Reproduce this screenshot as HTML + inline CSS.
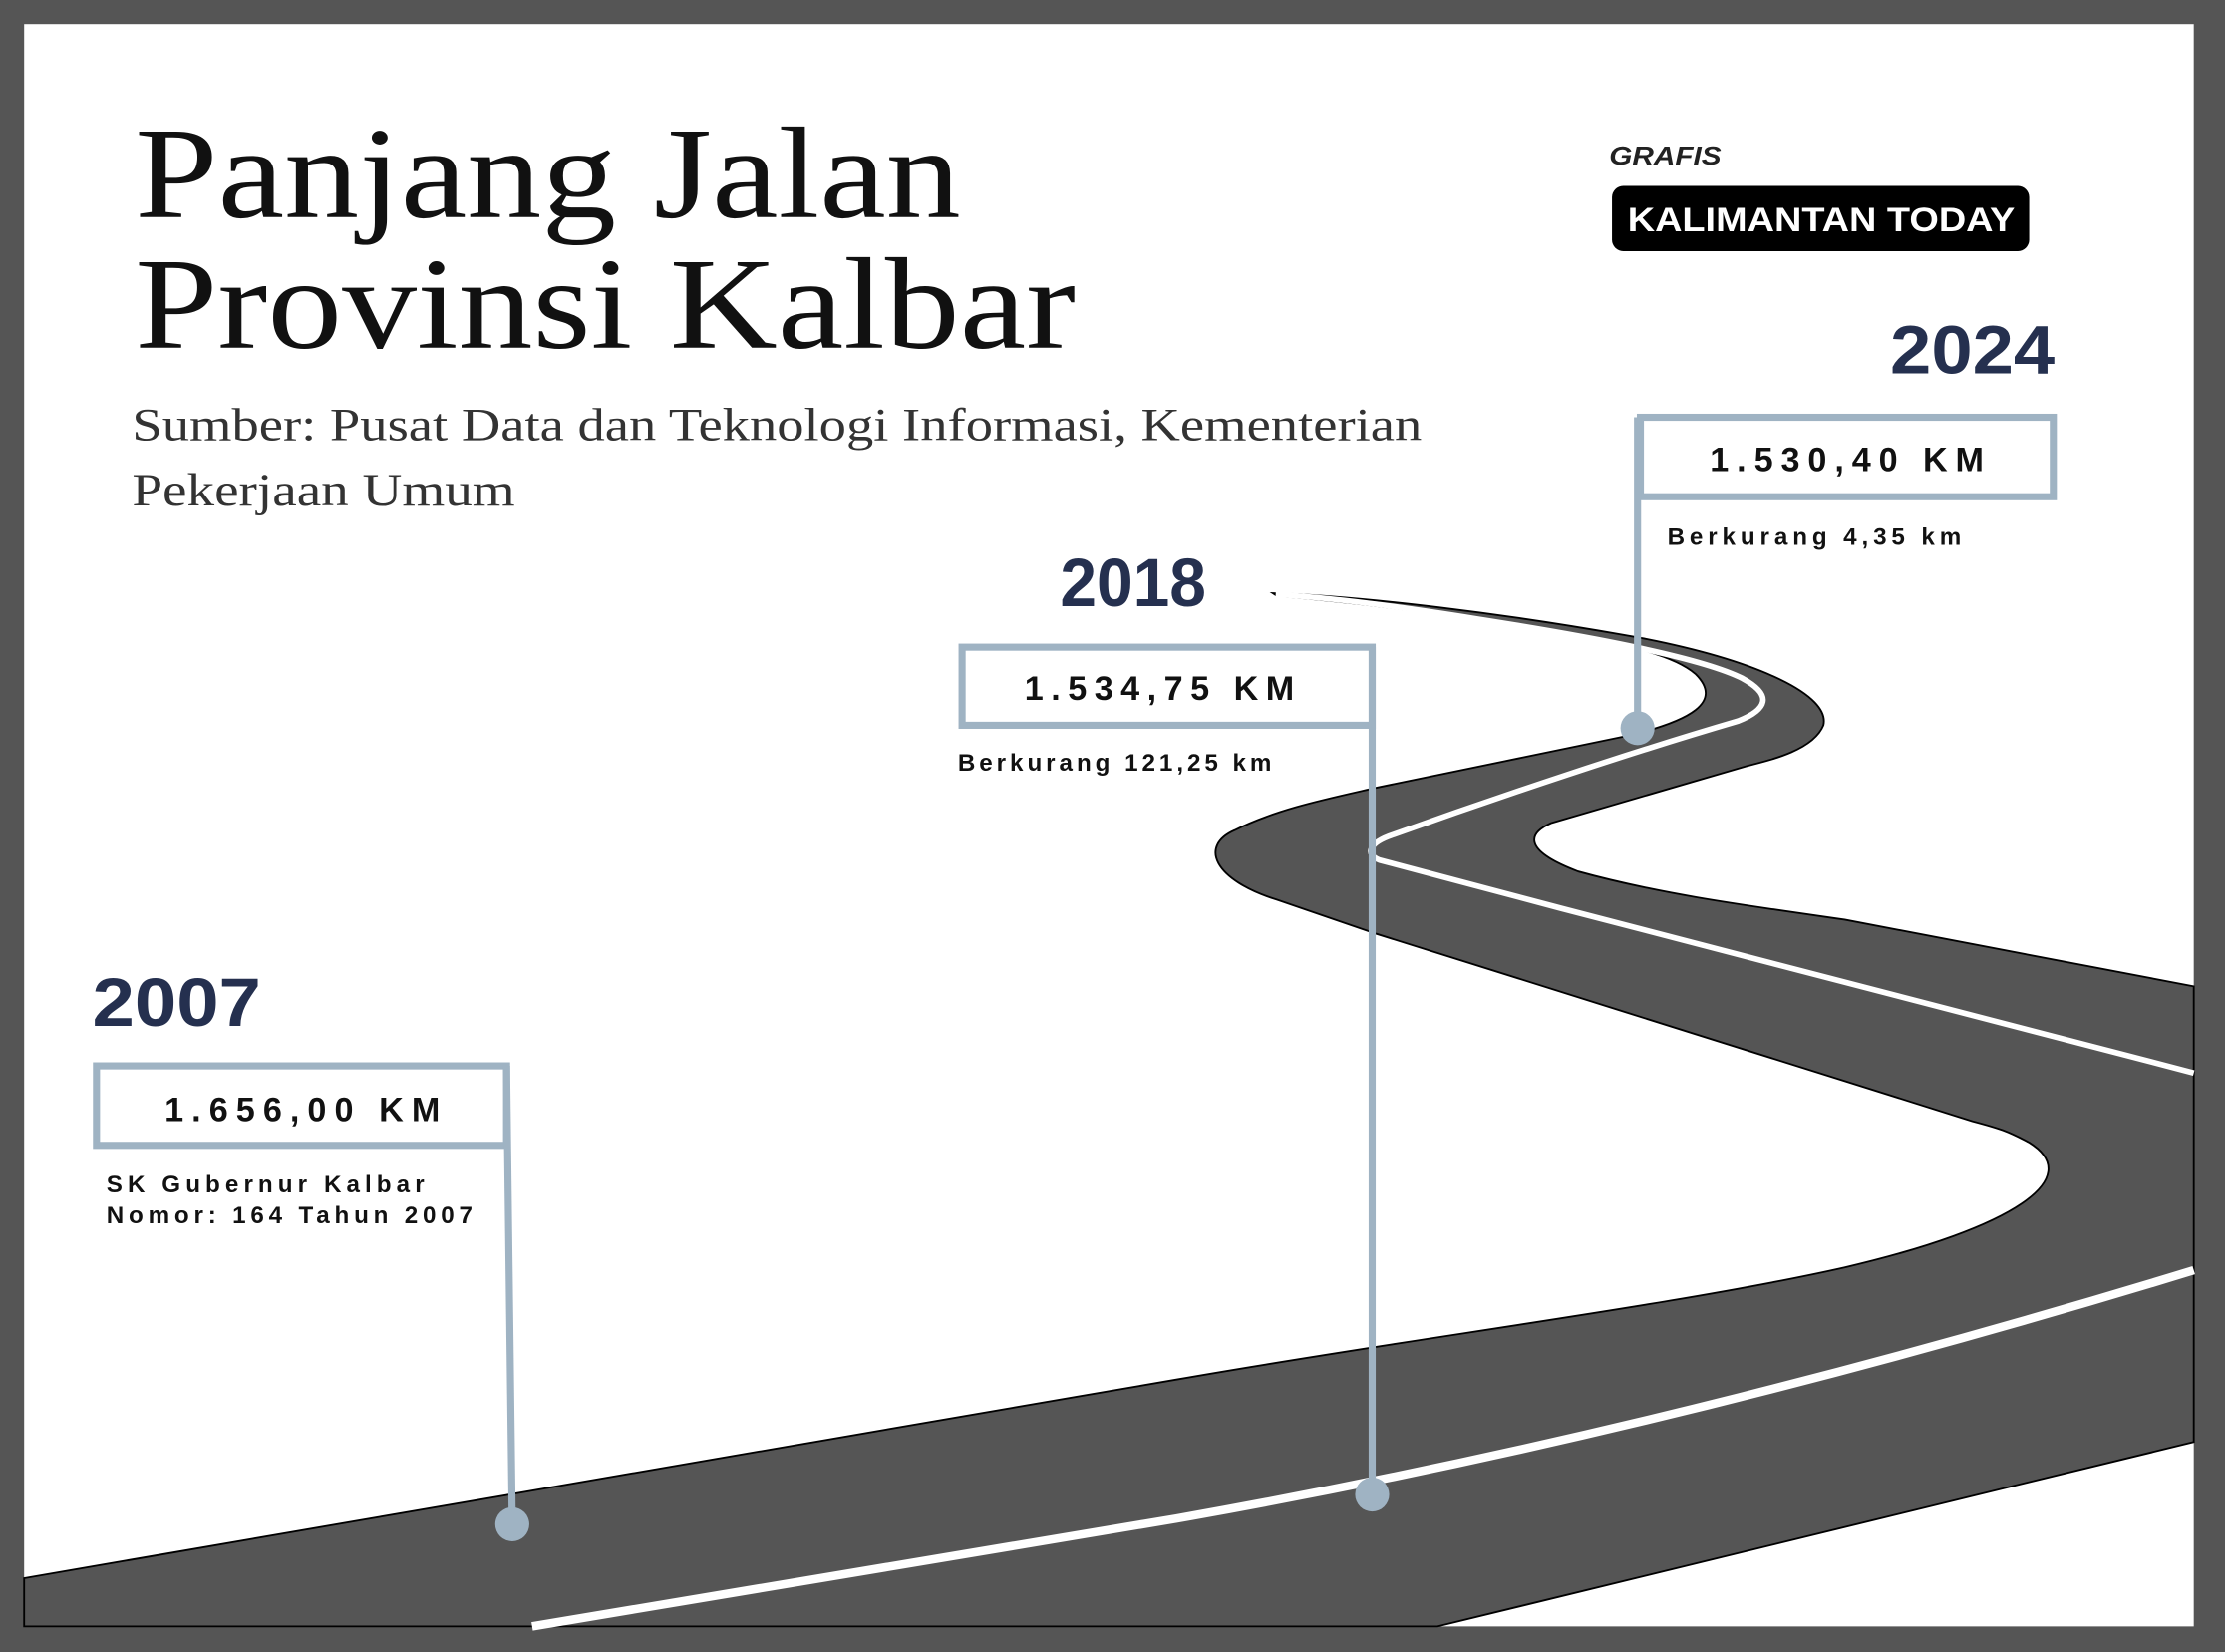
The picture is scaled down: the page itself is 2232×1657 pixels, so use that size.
<!DOCTYPE html>
<html><head><meta charset="utf-8"><style>
html,body{margin:0;padding:0;background:#555;}
svg{display:block;}
</style></head><body>
<svg width="2232" height="1657" viewBox="0 0 1568 1164" preserveAspectRatio="none" xmlns="http://www.w3.org/2000/svg">
<rect x="0" y="0" width="1568" height="1164" fill="#555555"/>
<rect x="17" y="17" width="1529" height="1129" fill="#ffffff"/>

<!-- road -->
<path d="M17,1112 L829,972 C1000,942 1180,920 1300,893 C1420,865 1470,830 1430,805 C1415,797 1409,795 1390,790 L970,658 L900,634 C855,620 845,596 870,585 C900,570 935,563 970,555 L1149,518 C1190,508 1215,495 1195,475 C1180,462 1150,455 1100,446 C1030,434 960,425 900,420 L897,418 C960,420 1060,432 1159,450 C1240,466 1290,490 1285,511 C1278,528 1250,535 1230,540 L1093,580 C1075,588 1075,600 1112,614 C1170,630 1230,638 1300,648 L1546,695 L1546,1016 L1013,1146 L17,1146 Z" fill="#555555" stroke="#000" stroke-width="1.3"/>
<!-- lower white line -->
<path d="M375,1146 L829,1070 C1100,1022 1350,955 1546,895" fill="none" stroke="#fff" stroke-width="6"/>
<!-- upper white line -->
<path d="M1546,756 L1100,640 L972,606 C962,602 964,594 982,588 C1060,560 1150,530 1225,508 C1245,500 1250,490 1228,478 C1200,464 1130,450 1040,436 C990,428 940,421 899,419" fill="none" stroke="#fff" stroke-width="4"/>

<!-- title -->
<g font-family="'Liberation Serif', serif" fill="#111">
<text x="95" y="153" font-size="92" textLength="582" lengthAdjust="spacingAndGlyphs">Panjang Jalan</text>
<text x="95" y="245" font-size="92" textLength="663" lengthAdjust="spacingAndGlyphs">Provinsi Kalbar</text>
<text x="93" y="310" font-size="33" fill="#333" textLength="909" lengthAdjust="spacingAndGlyphs">Sumber: Pusat Data dan Teknologi Informasi, Kementerian</text>
<text x="93" y="356" font-size="33" fill="#333" textLength="270" lengthAdjust="spacingAndGlyphs">Pekerjaan Umum</text>
</g>

<g font-family="'Liberation Sans', sans-serif" font-weight="bold">
<text x="1134" y="116" font-size="18" font-style="italic" fill="#222" textLength="79" lengthAdjust="spacingAndGlyphs">GRAFIS</text>
<rect x="1136" y="131" width="294" height="46" rx="8" fill="#000"/>
<text x="1147" y="163" font-size="24" fill="#fff" textLength="273" lengthAdjust="spacingAndGlyphs">KALIMANTAN TODAY</text>

<g fill="#25304f" font-size="48">
<text x="1332" y="263" textLength="116" lengthAdjust="spacingAndGlyphs">2024</text>
<text x="747" y="427" textLength="103" lengthAdjust="spacingAndGlyphs">2018</text>
<text x="65" y="723" textLength="119" lengthAdjust="spacingAndGlyphs">2007</text>
</g>

<g fill="none" stroke="#9fb3c3" stroke-width="5">
<rect x="1156" y="294" width="291" height="56"/>
<line x1="1154" y1="294" x2="1154" y2="513"/>
<rect x="678" y="456" width="289" height="55"/>
<line x1="967" y1="456" x2="967" y2="1053"/>
<rect x="68" y="751" width="289" height="56"/>
<line x1="357" y1="751" x2="361" y2="1074"/>
</g>
<g fill="#9fb3c3">
<circle cx="1154" cy="513" r="12"/>
<circle cx="967" cy="1053" r="12"/>
<circle cx="361" cy="1074" r="12"/>
</g>

<g fill="#111" font-size="24">
<text x="1205" y="332" textLength="193" lengthAdjust="spacing">1.530,40 KM</text>
<text x="722" y="493" textLength="190" lengthAdjust="spacing">1.534,75 KM</text>
<text x="116" y="790" textLength="194" lengthAdjust="spacing">1.656,00 KM</text>
</g>
<g fill="#111" font-size="17">
<text x="1175" y="384" textLength="207" lengthAdjust="spacing">Berkurang 4,35 km</text>
<text x="675" y="543" textLength="221" lengthAdjust="spacing">Berkurang 121,25 km</text>
<text x="75" y="840" textLength="224" lengthAdjust="spacing">SK Gubernur Kalbar</text>
<text x="75" y="862" textLength="258" lengthAdjust="spacing">Nomor: 164 Tahun 2007</text>
</g>
</g>
</svg>
</body></html>
